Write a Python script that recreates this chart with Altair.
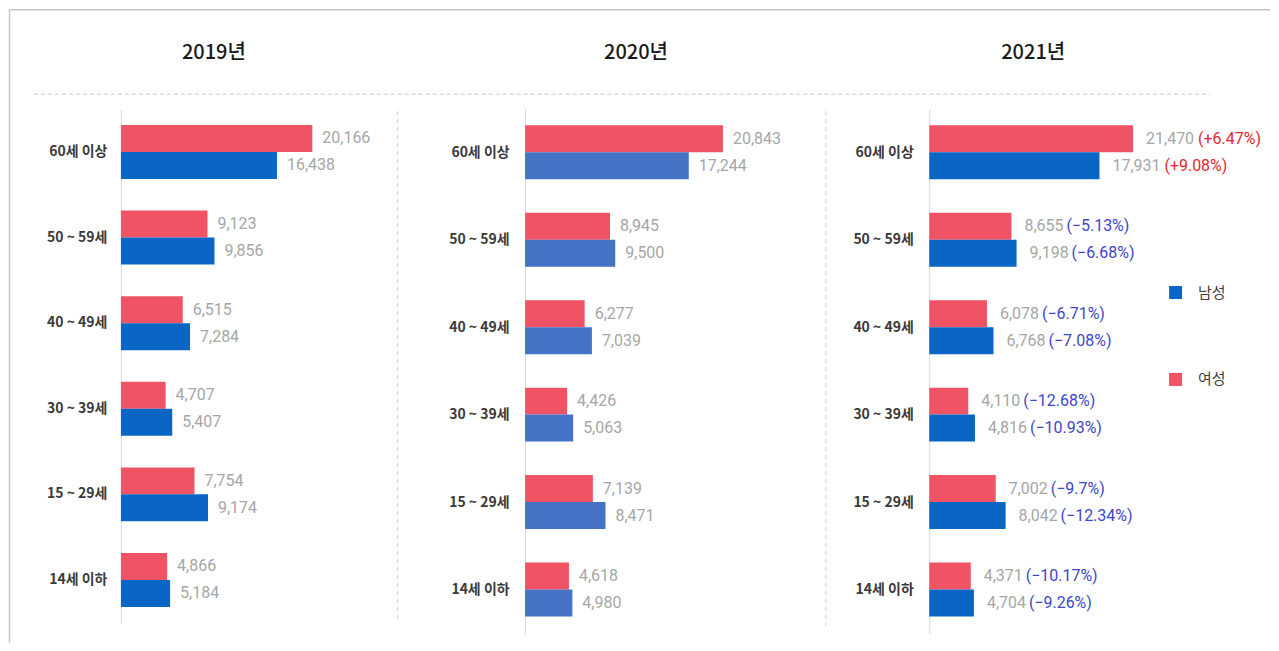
import altair as alt
import pandas as pd

ages = ["60세 이상", "50 ~ 59세", "40 ~ 49세", "30 ~ 39세", "15 ~ 29세", "14세 이하"]
years = ["2019년", "2020년", "2021년"]
sexes = ["남성", "여성"]

female_2019 = [20166, 9123, 6515, 4707, 7754, 4866]
male_2019 = [16438, 9856, 7284, 5407, 9174, 5184]
female_2020 = [20843, 8945, 6277, 4426, 7139, 4618]
male_2020 = [17244, 9500, 7039, 5063, 8471, 4980]
female_2021 = [21470, 8655, 6078, 4110, 7002, 4371]
male_2021 = [17931, 9198, 6768, 4816, 8042, 4704]
female_2021_change = ["+6.47%", "−5.13%", "−6.71%", "−12.68%", "−9.7%", "−10.17%"]
male_2021_change = ["+9.08%", "−6.68%", "−7.08%", "−10.93%", "−12.34%", "−9.26%"]

RED = "#EF5364"
BLUE = "#0A66C4"
BLUE_2020 = "#4472C4"
GRAY_TXT = "#A6A6A6"
UP = "#E3262E"
DOWN = "#3D45C8"
KFONT = "Noto Sans CJK KR"
NFONT = "Roboto"


def make_df(female, male, fchg=None, mchg=None):
    rows = []
    for i, a in enumerate(ages):
        rows.append({"age": a, "sex": "여성", "value": female[i],
                     "change": fchg[i] if fchg else ""})
        rows.append({"age": a, "sex": "남성", "value": male[i],
                     "change": mchg[i] if mchg else ""})
    return pd.DataFrame(rows)


one = pd.DataFrame({"k": [0]})


def panel(idx, df, blue, height, label_pad, num_dx, title_x, legend, extras):
    base = alt.Chart(df)
    y = alt.Y("age:N", sort=ages,
              scale=alt.Scale(paddingInner=0.37, paddingOuter=0.185),
              axis=alt.Axis(title=None, ticks=False, labelPadding=label_pad,
                            labelFont=KFONT, labelFontSize=14,
                            labelFontWeight="bold", labelColor="#3A3A3A",
                            domainColor="#D9D9D9", domainWidth=1, grid=False))
    yoff = alt.YOffset("sex:N", sort=["여성", "남성"],
                       scale=alt.Scale(paddingInner=0, paddingOuter=0))
    x = alt.X("value:Q", scale=alt.Scale(domain=[0, 30000]), axis=None)
    color = alt.Color("sex:N", scale=alt.Scale(domain=sexes, range=[blue, RED]),
                      legend=legend)
    bars = base.mark_bar().encode(y=y, yOffset=yoff, x=x, color=color)
    nums = base.mark_text(align="left", baseline="middle", dx=num_dx,
                          font=NFONT, fontSize=16, color=GRAY_TXT).encode(
        y=y, yOffset=yoff, x=x, text=alt.Text("value:Q", format=","))
    title = alt.Chart(pd.DataFrame({"title": [years[idx]]})).mark_text(
        font=KFONT, fontSize=20, fontWeight=500, color="#1A1A1A",
        align="center", baseline="middle").encode(
        text="title:N", x=alt.value(title_x), y=alt.value(-56))
    layers = [bars, nums, title]
    if idx == 2:
        pct_color = alt.condition("datum.change[0] == '+'", alt.value(UP), alt.value(DOWN))
        for cond, dxv in (("datum.value >= 10000", num_dx + 52), ("datum.value < 10000", num_dx + 42)):
            layers.append(base.transform_filter(cond).transform_calculate(
                pct="'(' + datum.change + ')'").mark_text(
                align="left", baseline="middle", dx=dxv, font=NFONT,
                fontSize=16).encode(y=y, yOffset=yoff, x=x, text="pct:N",
                                    color=pct_color))
    layers += extras
    return alt.layer(*layers).properties(width=285, height=height)


border_top = alt.Chart(one).mark_rule(color="#C4C4C4", strokeWidth=1.5).encode(
    x=alt.value(-111.5), x2=alt.value(1150), y=alt.value(-99.5))
border_left = alt.Chart(one).mark_rule(color="#C4C4C4", strokeWidth=1.5).encode(
    x=alt.value(-111.5), y=alt.value(-99.5), y2=alt.value(534))
hdash = alt.Chart(one).mark_rule(color="#C8C8C8", strokeDash=[4, 3], strokeWidth=1).encode(
    x=alt.value(-87), x2=alt.value(1090), y=alt.value(-15))
vsep1 = alt.Chart(one).mark_rule(color="#CFCFCF", strokeDash=[4, 4], strokeWidth=1).encode(
    x=alt.value(277), y=alt.value(2), y2=alt.value(512))
vsep2 = alt.Chart(one).mark_rule(color="#CFCFCF", strokeDash=[4, 4], strokeWidth=1).encode(
    x=alt.value(301), y=alt.value(2), y2=alt.value(517))

legend3 = alt.Legend(orient="none", legendX=239, legendY=176, title=None,
                     symbolType="square", symbolSize=169, symbolStrokeWidth=0,
                     symbolOpacity=1, labelFont=KFONT, labelFontSize=15,
                     labelColor="#404040", labelOffset=15, rowPadding=71,
                     padding=0)

p1 = panel(0, make_df(female_2019, male_2019), BLUE, 514, 14, 10, 93, None,
           [border_top, border_left, hdash, vsep1])
p2 = panel(1, make_df(female_2020, male_2020), BLUE_2020, 525, 16, 10, 111, None,
           [vsep2])
p3 = panel(2, make_df(female_2021, male_2021, female_2021_change, male_2021_change),
           BLUE, 525, 16, 13, 104, legend3, [])

chart = alt.hconcat(p1, p2, p3, spacing=119.5, bounds="flush").resolve_scale(
    color="independent").resolve_legend(color="independent").properties(
    padding=0, background="white").configure_view(strokeWidth=0, stroke="transparent")

chart.save("out.html", embed_options={"renderer": "svg", "actions": False})
